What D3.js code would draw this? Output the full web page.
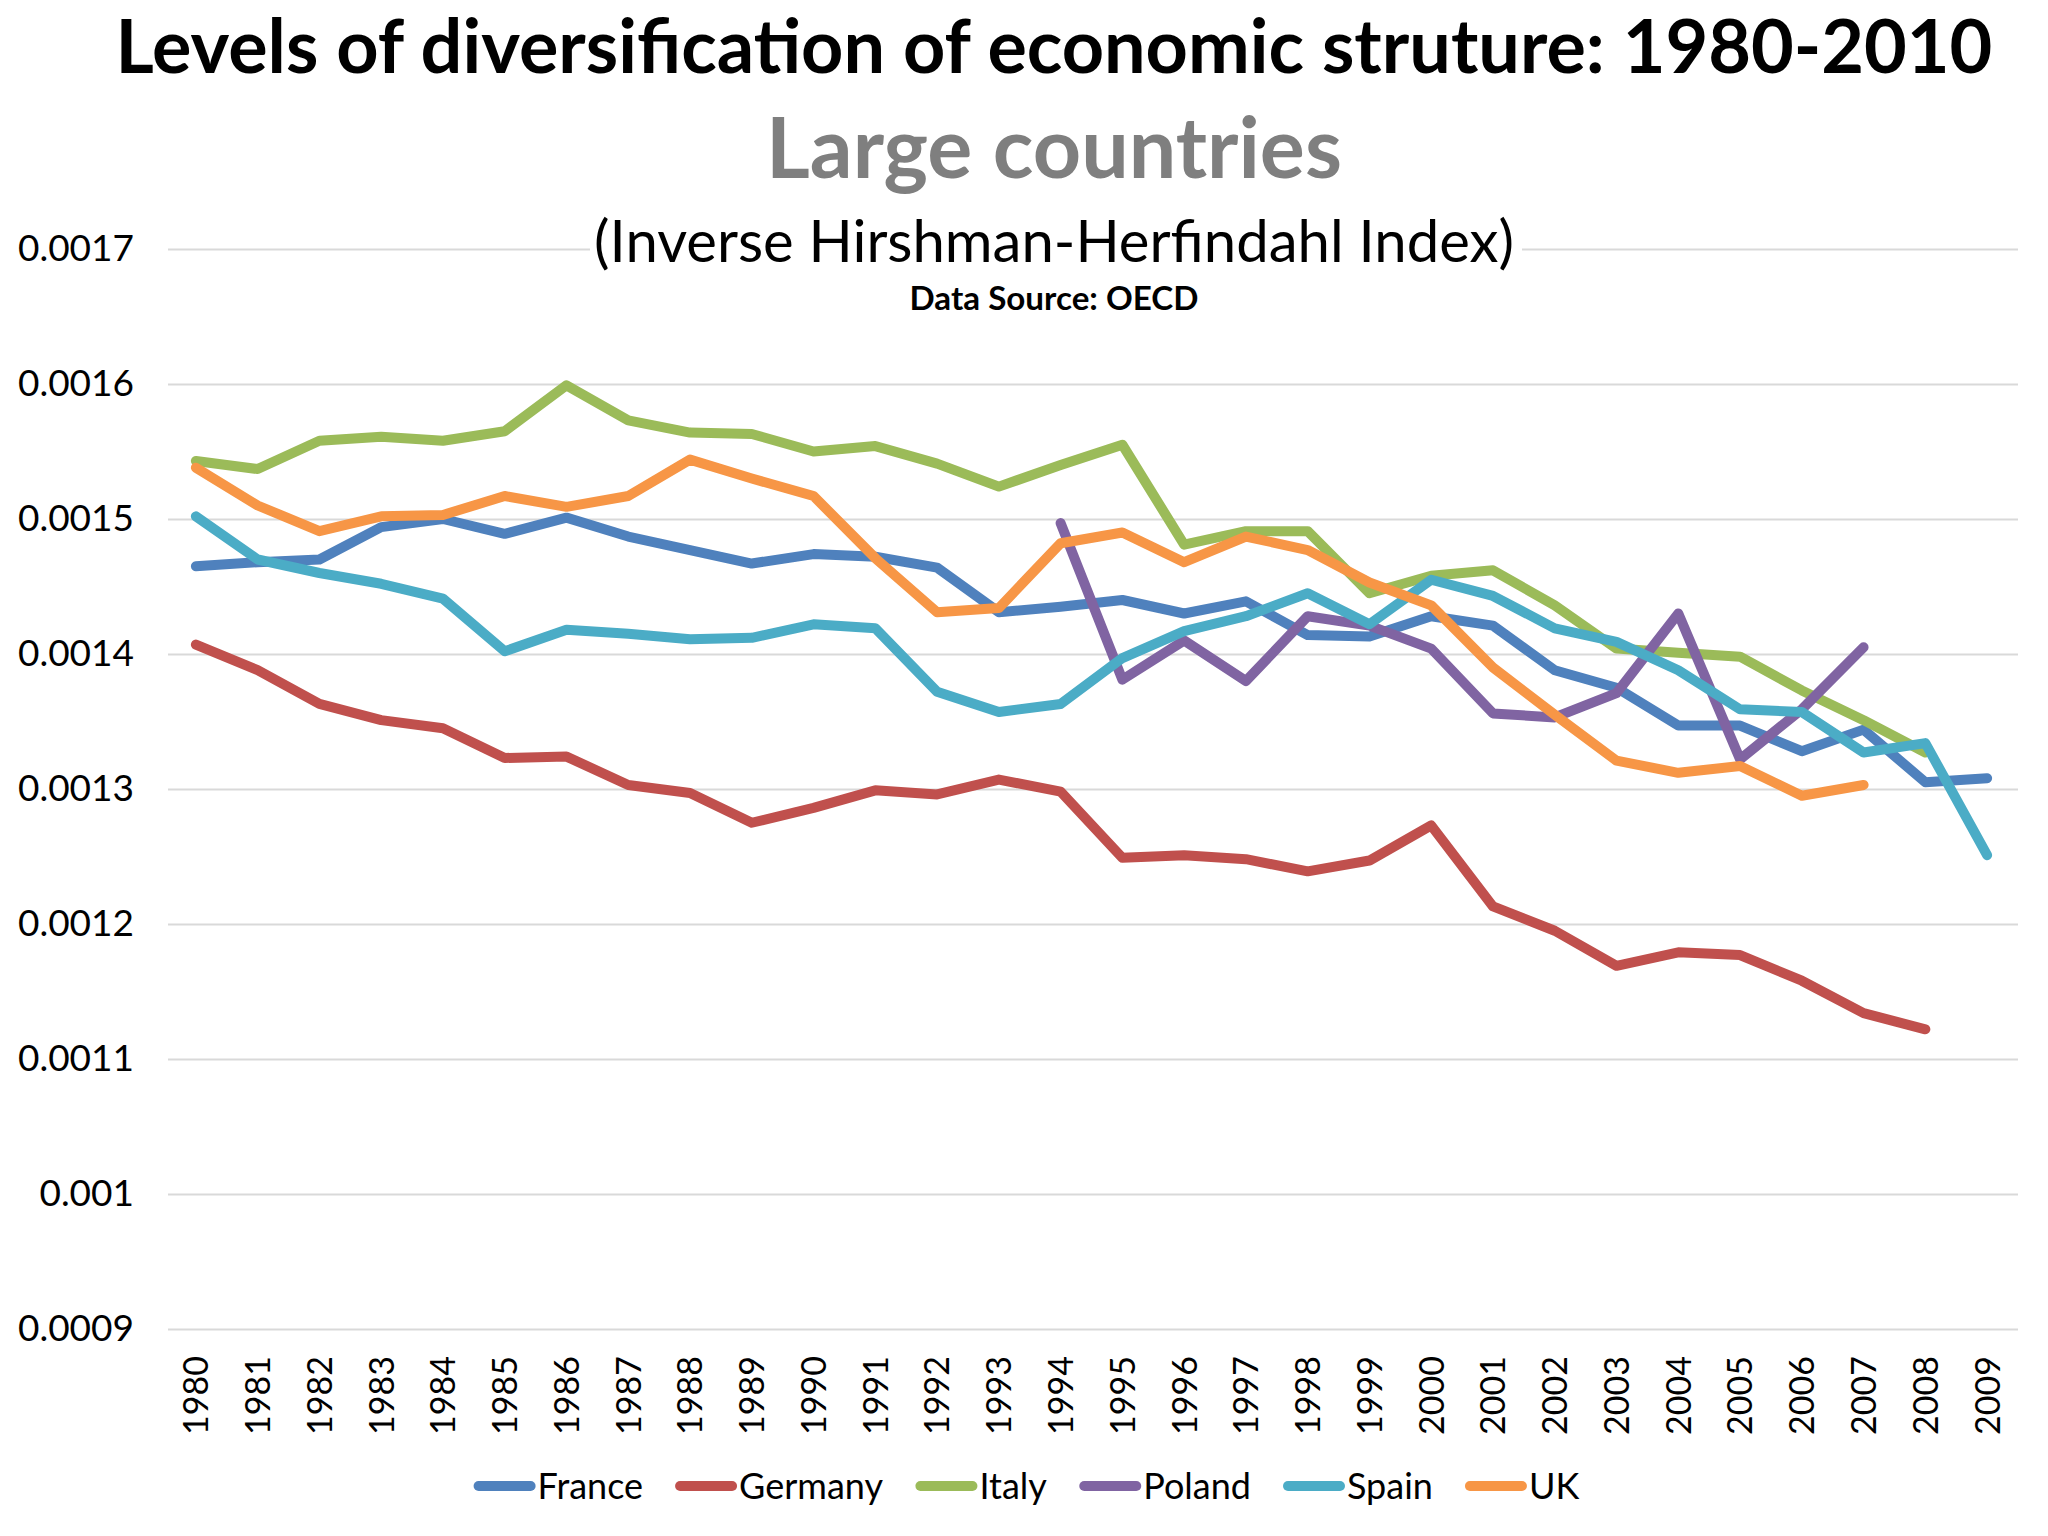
<!DOCTYPE html>
<html>
<head>
<meta charset="utf-8">
<script src="https://cdn.jsdelivr.net/npm/d3@7"></script>
<style>
  body { margin: 0; background: #fff; }
  svg text { font-family: Lato, "Open Sans", sans-serif; }
</style>
</head>
<body>
<div id="chart"></div>
<script>
// ---- data (values x 1e-4) ----
const years = d3.range(1980, 2010).map(String);
const countries = ['France', 'Germany', 'Italy', 'Poland', 'Spain', 'UK'];
const colors = ['#4f81bd', '#c0504d', '#9bbb59', '#8064a2', '#4bacc6', '#f79646'];
const yTicks = [0.0009, 0.001, 0.0011, 0.0012, 0.0013, 0.0014, 0.0015, 0.0016, 0.0017];

const france = [14.65, 14.68, 14.70, 14.94, 15.00, 14.89, 15.01, 14.87, 14.77, 14.67, 14.74, 14.72, 14.64, 14.31, 14.35, 14.40, 14.30, 14.39, 14.14, 14.13, 14.28, 14.21, 13.88, 13.75, 13.47, 13.47, 13.28, 13.44, 13.05, 13.08];
const germany = [14.07, 13.88, 13.63, 13.51, 13.45, 13.23, 13.24, 13.03, 12.97, 12.75, 12.86, 12.99, 12.96, 13.07, 12.98, 12.49, 12.51, 12.48, 12.39, 12.47, 12.73, 12.13, 11.95, 11.69, 11.79, 11.77, 11.58, 11.34, 11.22, null];
const italy = [15.43, 15.37, 15.58, 15.61, 15.58, 15.65, 15.99, 15.73, 15.64, 15.63, 15.50, 15.54, 15.41, 15.24, 15.40, 15.55, 14.81, 14.91, 14.91, 14.45, 14.58, 14.62, 14.36, 14.04, 14.01, 13.98, 13.73, 13.51, 13.27, null];
const poland = [null, null, null, null, null, null, null, null, null, null, null, null, null, null, 14.97, 13.81, 14.10, 13.80, 14.28, 14.21, 14.04, 13.56, 13.53, 13.71, 14.30, 13.22, 13.59, 14.05, null, null];
const spain = [15.02, 14.70, 14.60, 14.52, 14.41, 14.02, 14.18, 14.15, 14.11, 14.12, 14.22, 14.19, 13.72, 13.57, 13.63, 13.97, 14.17, 14.28, 14.45, 14.22, 14.55, 14.43, 14.19, 14.09, 13.88, 13.59, 13.57, 13.27, 13.34, 12.51];
const uk = [15.38, 15.10, 14.91, 15.02, 15.03, 15.17, 15.09, 15.17, 15.44, 15.30, 15.17, 14.71, 14.31, 14.34, 14.82, 14.90, 14.68, 14.87, 14.77, 14.53, 14.36, 13.90, 13.55, 13.21, 13.12, 13.17, 12.95, 13.03, null, null];

const seriesValues = [france, germany, italy, poland, spain, uk];

const W = 2048, H = 1536;
const svg = d3.select('#chart').append('svg')
  .attr('width', W)
  .attr('height', H);

const x = d3.scalePoint()
  .domain(years)
  .range([165, 2018])
  .padding(0.5);

const y = d3.scaleLinear()
  .domain([0.0009, 0.0017])
  .range([1329, 249]);

// gridlines + y labels
const yAxis = d3.axisLeft(y)
  .tickValues(yTicks)
  .tickSize(-(2018 - 168))
  .tickPadding(34)
  .tickFormat(d => String(+d.toFixed(4)));

const gy = svg.append('g')
  .attr('transform', 'translate(168,0)')
  .call(yAxis);
gy.select('.domain').remove();
gy.selectAll('.tick line')
  .attr('stroke', '#d9d9d9')
  .attr('stroke-width', 2.2);
gy.selectAll('.tick text')
  .attr('fill', '#000')
  .style('font-size', '37px');

// x labels (rotated)
const xAxis = d3.axisBottom(x).tickSize(0).tickPadding(0);
const gx = svg.append('g')
  .attr('transform', 'translate(0,1356)')
  .call(xAxis);
gx.select('.domain').remove();
gx.selectAll('.tick text')
  .attr('fill', '#000')
  .style('font-size', '34px')
  .attr('transform', 'rotate(-90)')
  .attr('text-anchor', 'end')
  .attr('x', 0)
  .attr('y', 0)
  .attr('dy', '0.35em');

// title box (white, covers top gridline)
svg.append('rect')
  .attr('x', 590).attr('y', 215)
  .attr('width', 932).attr('height', 100)
  .attr('fill', '#fff');

// text sized to a target width
const fitText = (sel, width) => {
  const size = parseFloat(sel.style('font-size'));
  const w = sel.node().getComputedTextLength();
  sel.style('font-size', (size * width / w) + 'px');
};

const cx = 1054;
svg.append('text')
  .attr('x', cx).attr('y', 73)
  .attr('text-anchor', 'middle')
  .style('font-size', '68px').style('font-weight', 'bold')
  .attr('fill', '#000')
  .text('Levels of diversification of economic struture: 1980-2010')
  .call(fitText, 1877);

svg.append('text')
  .attr('x', cx).attr('y', 178)
  .attr('text-anchor', 'middle')
  .style('font-size', '80px').style('font-weight', 'bold')
  .attr('fill', '#7f7f7f')
  .text('Large countries')
  .call(fitText, 576);

svg.append('text')
  .attr('x', cx).attr('y', 262)
  .attr('text-anchor', 'middle')
  .style('font-size', '52px')
  .attr('fill', '#000')
  .text('(Inverse Hirshman-Herfindahl Index)')
  .call(fitText, 920);

svg.append('text')
  .attr('x', cx).attr('y', 310)
  .attr('text-anchor', 'middle')
  .style('font-size', '26px').style('font-weight', 'bold')
  .attr('fill', '#000')
  .text('Data Source: OECD')
  .call(fitText, 289);

// lines
const line = d3.line()
  .defined(d => d != null)
  .x((d, i) => x(years[i]))
  .y(d => y(d * 1e-4));

svg.append('g').selectAll('path')
  .data(seriesValues)
  .enter()
  .append('path')
  .attr('d', line)
  .attr('fill', 'none')
  .attr('stroke', (d, i) => colors[i])
  .attr('stroke-width', 10)
  .attr('stroke-linejoin', 'round')
  .attr('stroke-linecap', 'round');

// legend
const legend = svg.append('g').attr('transform', 'translate(0,1486)');
const items = legend.selectAll('g')
  .data(countries)
  .enter()
  .append('g');
items.append('line')
  .attr('x1', 5).attr('x2', 57)
  .attr('stroke', (d, i) => colors[i])
  .attr('stroke-width', 10)
  .attr('stroke-linecap', 'round');
items.append('text')
  .attr('x', 64)
  .attr('dy', '0.35em')
  .style('font-size', '36px')
  .attr('fill', '#000')
  .text(d => d);

let widths = [];
items.each(function () { widths.push(this.getBBox().width); });
const gap = 37;
const total = d3.sum(widths) + gap * (widths.length - 1);
let lx = 1024 - total / 2;
items.attr('transform', (d, i) => {
  const t = `translate(${lx},0)`;
  lx += widths[i] + gap;
  return t;
});
</script>
</body>
</html>
